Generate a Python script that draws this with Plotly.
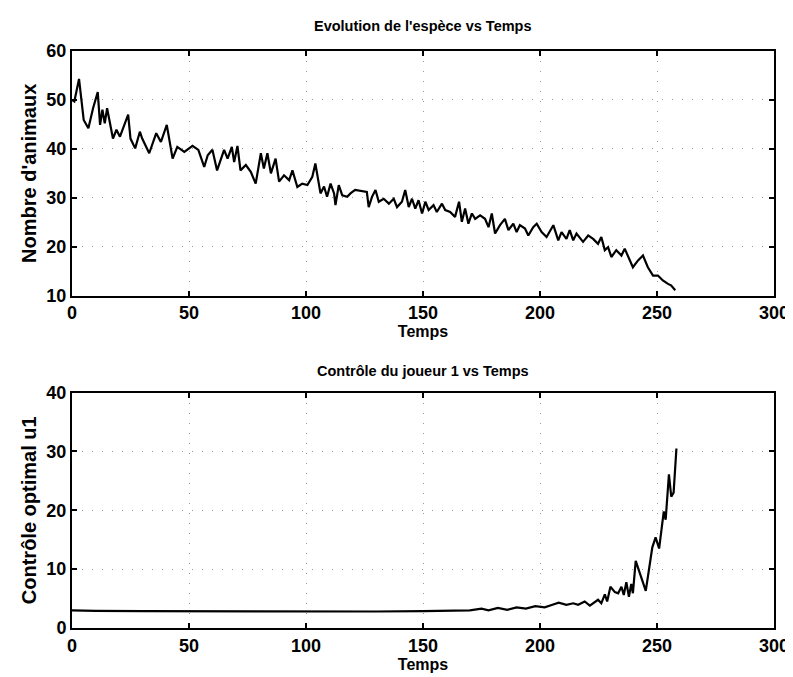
import plotly.graph_objects as go
from plotly.subplots import make_subplots

# Top: population vs time
t_pop = [0, 1, 3, 5, 7, 9, 11, 12, 13, 14, 15, 17.5, 19, 20.5, 24, 25, 27, 29, 30, 33,
         36, 38, 40.5, 43, 45, 48, 51.5, 54, 56.5, 58, 60, 62, 65, 66.5, 68.3, 69.3, 70.7,
         72, 74.3, 76.4, 78.5, 80.7, 82, 83.5, 85, 87, 88.5, 90.6, 92.8, 94.2, 96.3, 98.4,
         100.6, 102.7, 104, 105, 106.2, 107.7, 109, 110.5, 112, 112.6, 114, 115.5, 117.6,
         119, 121, 126, 126.8, 128.2, 129.7, 131.1, 133.2, 135.4, 137.5, 138.9, 141, 142.4,
         143.9, 145.3, 146.7, 148.1, 149.6, 151, 152.4, 154.5, 155.9, 158.1, 159.5, 161.6,
         163.7, 165.4, 166.6, 168, 169.4, 170.9, 172.3, 174.4, 176.5, 178, 179.4, 180.8,
         182.9, 185, 186.5, 188.6, 190, 191.4, 193.6, 195, 197.1, 198.6, 200.7, 202.8,
         205.7, 207.8, 209.2, 211.3, 212.7, 214.2, 215.6, 218.4, 220.6, 222.7, 224.8,
         226.2, 227.7, 229.1, 230.5, 232.6, 234.8, 236.2, 238.3, 239.7, 241.9, 244, 246.1,
         248.3, 250.4, 252.5, 254.7, 256, 257.8]
pop = [50, 49.7, 54.3, 45.9, 44.2, 48.3, 51.6, 44.9, 48.0, 45.2, 48.3, 42.1, 43.9, 42.5,
       47.0, 42.1, 40.1, 43.5, 42.1, 39.1, 43.2, 41.4, 44.9, 38.0, 40.4, 39.4, 40.6, 39.8,
       36.3, 38.7, 39.8, 35.6, 39.8, 38.0, 40.4, 37.3, 40.6, 35.6, 36.7, 35.3, 32.9, 39.1,
       36.0, 39.1, 35.0, 38.0, 33.3, 34.6, 33.6, 35.6, 32.2, 32.9, 32.6, 34.3, 37.0, 33.8,
       30.9, 32.3, 30.2, 32.9, 30.9, 28.5, 32.6, 30.5, 30.2, 30.9, 31.6, 31.2, 28.1, 30.2,
       31.6, 29.2, 29.8, 28.8, 29.8, 28.1, 29.2, 31.6, 28.1, 29.8, 27.8, 29.5, 26.8, 29.2,
       27.5, 28.5, 27.1, 28.8, 27.5, 27.1, 26.1, 29.2, 25.1, 27.8, 24.7, 26.8, 25.7, 26.4,
       25.7, 24.0, 26.8, 22.7, 24.4, 25.7, 23.4, 24.7, 23.0, 24.4, 23.7, 22.3, 24.0, 24.7,
       23.0, 22.0, 24.4, 21.3, 23.0, 21.6, 23.4, 21.3, 22.7, 21.0, 22.3, 21.6, 20.6, 22.0,
       19.3, 19.9, 17.9, 19.3, 18.2, 19.6, 17.5, 15.8, 17.2, 18.2, 15.8, 14.1, 14.1, 13.1,
       12.4, 12.1, 11.1]

# Bottom: optimal control of player 1 vs time
t_ctrl = [0, 10, 30, 60, 100, 130, 150, 160, 170, 175, 178, 182, 186, 190, 194, 198, 202,
          205, 208, 211.3, 214.2, 216.3, 219.1, 221.3, 224.8, 226.2, 227.7, 228.7, 230.1,
          232, 233.4, 234.8, 235.8, 236.9, 238, 239, 239.7, 240.9, 245.2, 248, 249.4,
          250.9, 252.9, 253.7, 255.1, 256.1, 257.1, 258.3]
ctrl = [3.0, 2.9, 2.85, 2.8, 2.8, 2.8, 2.85, 2.9, 3.0, 3.3, 3.0, 3.4, 3.1, 3.5, 3.3, 3.7,
        3.5, 3.9, 4.3, 3.95, 4.2, 3.95, 4.5, 3.8, 4.8, 4.2, 5.7, 4.5, 7.0, 6.1, 5.9, 7.0,
        5.6, 7.8, 5.3, 7.5, 5.9, 11.4, 6.3, 13.7, 15.4, 13.5, 19.8, 18.4, 26.1, 22.3,
        23.0, 30.5]

x_ticks = [0, 50, 100, 150, 200, 250, 300]
y_ticks_top = [10, 20, 30, 40, 50, 60]
y_ticks_bot = [0, 10, 20, 30, 40]

FONT = "Liberation Sans, Arial, sans-serif"
BOLD_TITLE = dict(family=FONT, size=14.5, color="black", weight="bold")
BOLD_YT = dict(family=FONT, size=20, color="black", weight="bold")
BOLD_XT = dict(family=FONT, size=16, color="black", weight="bold")

fig = make_subplots(rows=2, cols=1, vertical_spacing=0.1)
fig.add_trace(go.Scatter(x=t_pop, y=pop, mode="lines",
                         line=dict(color="black", width=2.2), showlegend=False), row=1, col=1)
fig.add_trace(go.Scatter(x=t_ctrl, y=ctrl, mode="lines",
                         line=dict(color="black", width=2.2), showlegend=False), row=2, col=1)

axis_common = dict(showline=True, linecolor="black", linewidth=2, mirror="ticks",
                   ticks="inside", ticklen=5, tickwidth=1.5, tickcolor="black",
                   showgrid=True, gridcolor="#9a9a9a", gridwidth=1, griddash="1px,9px",
                   zeroline=False,
                   tickfont=dict(family=FONT, size=18, color="black", weight="bold"))

fig.update_xaxes(**axis_common, range=[0, 300], tickvals=x_ticks)
fig.update_yaxes(**axis_common)
fig.update_yaxes(range=[10, 60], tickvals=y_ticks_top, row=1, col=1,
                 title=dict(text="Nombre d'animaux", font=BOLD_YT, standoff=4))
fig.update_yaxes(range=[0, 40], tickvals=y_ticks_bot, row=2, col=1,
                 title=dict(text="Contrôle optimal u1", font=BOLD_YT, standoff=4))
for r in (1, 2):
    fig.update_xaxes(title=dict(text="Temps", font=BOLD_XT, standoff=0), row=r, col=1)

fig.update_layout(
    width=793, height=677,
    margin=dict(l=64, r=25, t=43, b=57),
    paper_bgcolor="white", plot_bgcolor="white",
    xaxis=dict(domain=[0, 1]), yaxis=dict(domain=[0.576, 1.0]),
    xaxis2=dict(domain=[0, 1]), yaxis2=dict(domain=[0.0, 0.408]),
    annotations=[
        dict(text="Evolution de l'espèce vs Temps", x=0.5, y=1.0, xref="paper", yref="paper",
             yanchor="middle", yshift=25, showarrow=False, font=BOLD_TITLE),
        dict(text="Contrôle du joueur 1 vs Temps", x=0.5, y=0.408, xref="paper", yref="paper",
             yanchor="middle", yshift=22, showarrow=False, font=BOLD_TITLE),
    ],
)

fig.write_html("out.html")
